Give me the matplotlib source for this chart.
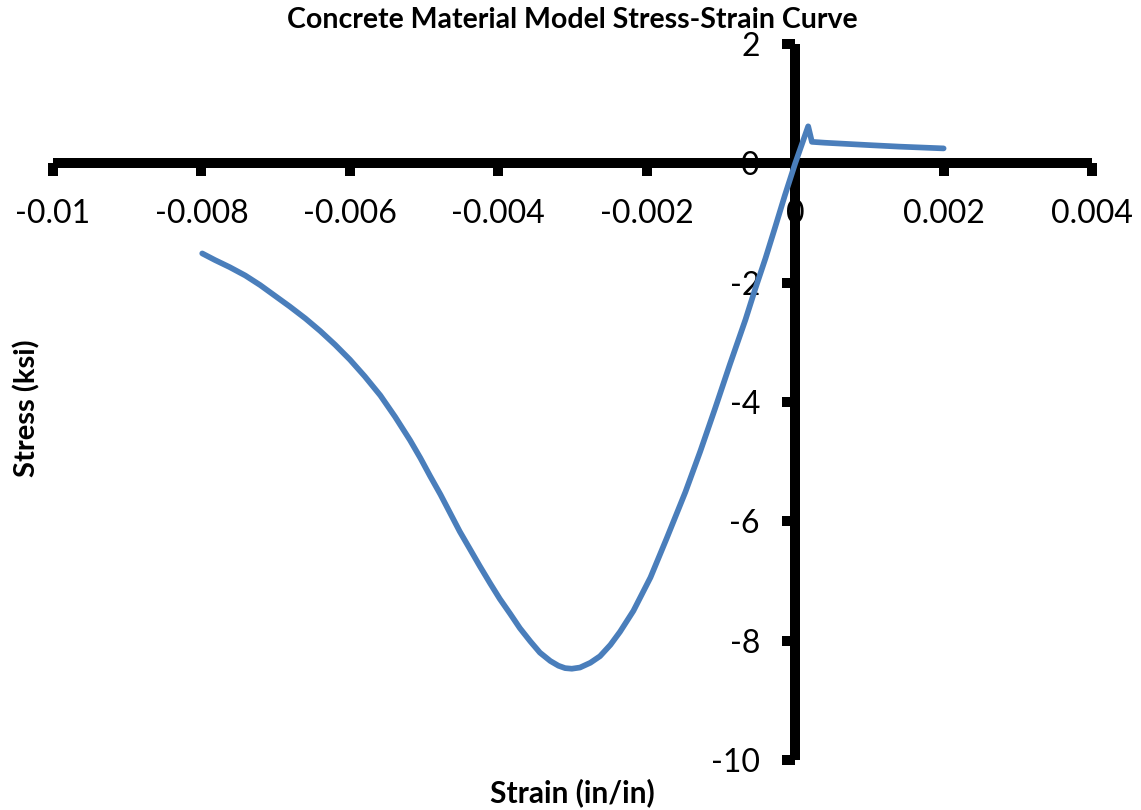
import matplotlib.pyplot as plt

# Concrete stress-strain curve: strain (in/in) vs stress (ksi)
strain = [-0.00799, -0.00782, -0.00762, -0.00741, -0.00721, -0.00701,
          -0.00681, -0.00660, -0.00640, -0.00620, -0.00600, -0.00580,
          -0.00559, -0.00539, -0.00519, -0.00505, -0.00492, -0.00478,
          -0.00465, -0.00452, -0.00438, -0.00425, -0.00411, -0.00398,
          -0.00384, -0.00371, -0.00357, -0.00344, -0.00330, -0.00319,
          -0.00310, -0.00301, -0.00290, -0.00276, -0.00263, -0.00249,
          -0.00236, -0.00218, -0.00195, -0.00173, -0.00148, -0.00128,
          -0.00108, -0.00088, -0.00067, -0.00054, -0.00040, -0.00027,
          -0.00014, 0.00000,
          0.000175, 0.000225, 0.00040, 0.00070, 0.00100, 0.00140, 0.00200]
stress = [-1.51, -1.62, -1.74, -1.88, -2.04, -2.22,
          -2.40, -2.60, -2.81, -3.04, -3.29, -3.57,
          -3.89, -4.25, -4.64, -4.94, -5.24, -5.55,
          -5.86, -6.17, -6.47, -6.75, -7.04, -7.30,
          -7.55, -7.79, -8.01, -8.20, -8.34, -8.42,
          -8.46, -8.47, -8.45, -8.37, -8.26, -8.07,
          -7.85, -7.50, -6.94, -6.28, -5.51, -4.83,
          -4.11, -3.37, -2.62, -2.11, -1.59, -1.07,
          -0.54, 0.00,
          0.62, 0.36, 0.345, 0.325, 0.305, 0.28, 0.25]

x_ticks = [-0.01, -0.008, -0.006, -0.004, -0.002, 0, 0.002, 0.004]
x_tick_labels = ['-0.01', '-0.008', '-0.006', '-0.004', '-0.002', '0', '0.002', '0.004']
y_ticks = [-10, -8, -6, -4, -2, 0, 2]
y_tick_labels = ['-10', '-8', '-6', '-4', '-2', '0', '2']

plt.rcParams['font.family'] = ['Lato', 'DejaVu Sans']

fig = plt.figure(figsize=(11.41, 8.10), dpi=100)
ax = fig.add_axes([0.0465, 0.0617, 0.9106, 0.884])

ax.plot(strain, stress, color='#4a7ebb', lw=4.1,
        solid_capstyle='round', solid_joinstyle='round',
        zorder=3, clip_on=False)

ax.set_xlim(-0.01, 0.004)
ax.set_ylim(-10, 2)

for side in ['top', 'right']:
    ax.spines[side].set_visible(False)
ax.spines['left'].set_position(('data', 0))
ax.spines['bottom'].set_position(('data', 0))
for side in ['left', 'bottom']:
    ax.spines[side].set_linewidth(7.2)
    ax.spines[side].set_capstyle('butt')
    ax.spines[side].set_color('black')

ax.set_xticks(x_ticks, x_tick_labels)
ax.set_yticks(y_ticks, y_tick_labels)
ax.tick_params(axis='x', direction='out', length=9.4, width=7.2,
               pad=16, labelsize=23)
ax.tick_params(axis='y', direction='out', length=9.4, width=7.2,
               pad=16, labelsize=23)

fig.text(572 / 1141, 1 - 20 / 810, 'Concrete Material Model Stress-Strain Curve',
         ha='center', va='center', fontsize=20.5, fontweight='bold')
fig.text(572 / 1141, 1 - 793 / 810, 'Strain (in/in)',
         ha='center', va='center', fontsize=21.5, fontweight='bold')
fig.text(27 / 1141, 1 - 408 / 810, 'Stress (ksi)', rotation=90,
         ha='center', va='center', fontsize=21, fontweight='bold')

fig.savefig('out.png', dpi=100)
